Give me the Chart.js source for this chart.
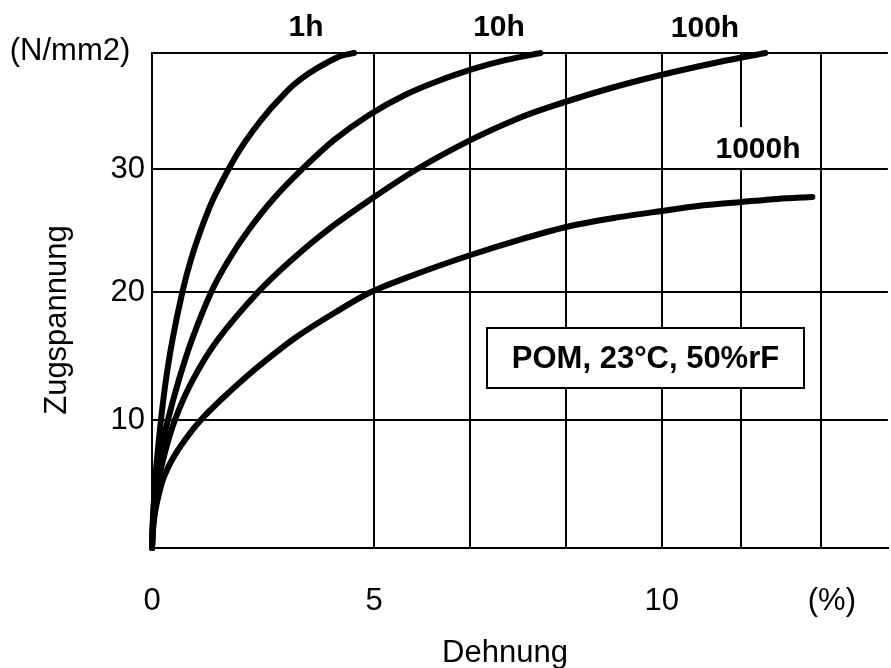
<!DOCTYPE html>
<html lang="de">
<head>
    <meta charset="UTF-8">
    <title>Zeitstand-Spannungs-Dehnungslinien POM</title>
    <script src="https://cdn.jsdelivr.net/npm/chart.js"></script>
    <style>
        body { margin: 0; padding: 0; background: #fff; }
        canvas { display: block; }
    </style>
</head>
<body>
    <canvas id="chart" width="891" height="668"></canvas>

    <script>
        // Werte (x-Achse wie gezeichnet, Einheit ~ %)
        const x1h    = [0, 0.034, 0.090, 0.202, 0.314, 0.460, 0.684, 0.874, 1.099, 1.368, 1.726, 1.973, 2.287, 2.646, 2.915, 3.184, 3.543, 3.924, 4.260, 4.552];
        const y1h    = [0, 2.97, 6.09, 10.0, 13.13, 16.25, 20.0, 22.5, 24.84, 27.19, 29.61, 31.09, 32.66, 34.22, 35.23, 36.17, 37.11, 37.89, 38.44, 38.67];

        const x10h   = [0, 0.018, 0.067, 0.157, 0.359, 0.605, 0.897, 1.334, 1.726, 2.175, 2.713, 3.386, 4.103, 4.888, 5.695, 6.502, 7.309, 7.982, 8.744];
        const y10h   = [0, 2.19, 4.53, 6.88, 10.0, 13.13, 16.25, 20.0, 22.5, 24.84, 27.19, 29.61, 31.88, 33.83, 35.39, 36.56, 37.5, 38.13, 38.67];

        const x100h  = [0, 0.034, 0.112, 0.247, 0.516, 0.919, 1.475, 2.390, 3.143, 3.951, 5.002, 5.975, 7.179, 8.161, 8.892, 10.18, 11.457, 12.769, 13.812];
        const y100h  = [0, 2.19, 4.53, 6.88, 10.0, 13.13, 16.25, 20.0, 22.5, 24.84, 27.42, 29.61, 31.88, 33.44, 34.38, 35.78, 36.95, 37.97, 38.67];

        const x1000h = [0, 0.022, 0.078, 0.179, 0.269, 0.448, 0.740, 1.099, 1.547, 2.040, 2.578, 3.251, 4.103, 4.933, 6.076, 7.175, 8.251, 9.327, 10.404, 11.48, 12.377, 13.27, 14.081, 14.87];
        const y1000h = [0, 1.41, 2.97, 4.53, 5.55, 6.88, 8.44, 10.0, 11.56, 13.13, 14.69, 16.48, 18.36, 20.0, 21.56, 22.89, 24.06, 25.08, 25.78, 26.33, 26.76, 27.03, 27.27, 27.42];

        const seriesNames = ['1h', '10h', '100h', '1000h'];

        // Gitterlinien und Achsbeschriftungen, so wie sie im Original liegen
        const xTicks = [0, 5, 7.17, 9.33, 11.48, 13.27, 15.07, 15.31];
        const xTickLabels = ['0', '5', '', '', '10', '', '', '(%)'];
        const yTicks = [0, 10, 20, 29.61, 38.67];
        const yTickLabels = ['', '10', '20', '30', ''];
        const xMax = 16.57;
        const yMax = 38.67;

        const FONT = "'Liberation Sans', Arial, sans-serif";
        Chart.defaults.font.family = FONT;
        Chart.defaults.color = '#000';

        function punkte(xs, ys) {
            return xs.map((x, i) => ({ x: x, y: ys[i] }));
        }

        function kurve(label, xs, ys) {
            return {
                label: label,
                data: punkte(xs, ys),
                borderColor: '#000',
                borderWidth: 6,
                borderCapStyle: 'round',
                borderJoinStyle: 'round',
                pointRadius: 0,
                tension: 0.3,
                fill: false,
                clip: 10
            };
        }

        const beschriftung = {
            id: 'beschriftung',
            afterDraw(chart) {
                const ctx = chart.ctx;
                ctx.save();
                ctx.fillStyle = '#000';

                // Einheit oben links
                ctx.font = "31px " + FONT;
                ctx.textAlign = 'center';
                ctx.textBaseline = 'alphabetic';
                ctx.fillText('(N/mm2)', 70, 60);

                // Achsentitel
                ctx.fillText('Dehnung', 505, 662);
                ctx.save();
                ctx.translate(66, 320);
                ctx.rotate(-Math.PI / 2);
                ctx.fillText('Zugspannung', 0, 0);
                ctx.restore();

                // Kurvennamen
                ctx.font = "bold 30px " + FONT;
                ctx.fillText(seriesNames[0], 306, 36);
                ctx.fillText(seriesNames[1], 499, 36);
                ctx.fillText(seriesNames[2], 705, 37);

                ctx.fillStyle = '#fff';
                ctx.fillRect(713, 127, 95, 41);
                ctx.fillStyle = '#000';
                ctx.fillText(seriesNames[3], 758, 158);

                // Kasten mit Prüfbedingungen
                ctx.fillStyle = '#fff';
                ctx.fillRect(487, 328, 317, 60);
                ctx.strokeStyle = '#000';
                ctx.lineWidth = 2;
                ctx.strokeRect(487, 328, 317, 60);
                ctx.fillStyle = '#000';
                ctx.font = "bold 31px " + FONT;
                ctx.textBaseline = 'middle';
                ctx.fillText('POM, 23°C, 50%rF', 645.5, 359);

                ctx.restore();
            }
        };

        new Chart(document.getElementById('chart'), {
            type: 'scatter',
            data: {
                datasets: [
                    kurve(seriesNames[0], x1h, y1h),
                    kurve(seriesNames[1], x10h, y10h),
                    kurve(seriesNames[2], x100h, y100h),
                    kurve(seriesNames[3], x1000h, y1000h)
                ]
            },
            options: {
                responsive: false,
                devicePixelRatio: 1,
                animation: false,
                showLine: true,
                layout: { padding: { top: 53, right: 0, left: 0, bottom: 0 } },
                plugins: {
                    legend: { display: false },
                    tooltip: { enabled: false }
                },
                scales: {
                    x: {
                        type: 'linear',
                        min: 0,
                        max: xMax,
                        afterBuildTicks: (scale) => { scale.ticks = xTicks.map(v => ({ value: v })); },
                        afterFit: (scale) => { scale.height = 120; },
                        ticks: {
                            autoSkip: false,
                            maxRotation: 0,
                            padding: 35,
                            font: { size: 31 },
                            callback: (value, index) => xTickLabels[index]
                        },
                        grid: {
                            drawTicks: false,
                            lineWidth: 2,
                            color: (c) => (c.index === xTicks.length - 1 ? 'rgba(0,0,0,0)' : '#000')
                        },
                        border: { display: true, color: '#000', width: 2 }
                    },
                    y: {
                        type: 'linear',
                        min: 0,
                        max: yMax,
                        afterBuildTicks: (scale) => { scale.ticks = yTicks.map(v => ({ value: v })); },
                        afterFit: (scale) => { scale.width = 152; },
                        ticks: {
                            autoSkip: false,
                            padding: 7,
                            font: { size: 31 },
                            callback: (value, index) => yTickLabels[index]
                        },
                        grid: {
                            drawTicks: false,
                            lineWidth: 2,
                            color: '#000'
                        },
                        border: { display: true, color: '#000', width: 2 }
                    }
                }
            },
            plugins: [beschriftung]
        });
    </script>
</body>
</html>
